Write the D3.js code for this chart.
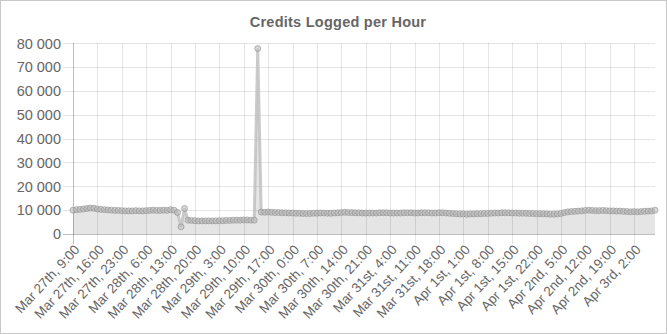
<!DOCTYPE html>
<html>
<head>
<meta charset="utf-8">
<script src="https://cdnjs.cloudflare.com/ajax/libs/d3/7.8.5/d3.min.js"></script>
<style>
  html, body { margin: 0; padding: 0; background: #fff; }
  #chart { width: 665px; height: 332px; border: 1px solid #c8c8c8; }
  text { font-family: "Liberation Sans", Arial, sans-serif; fill: #666; }
</style>
</head>
<body>
<div id="chart"></div>
<script>
// hourly credits, Mar 27th 9:00 .. Apr 3rd 8:00
var credits = [
  10000, 10200, 10300, 10500, 10700, 10900, 10800, 10500, 10300, 10200,
  10100, 10000, 9900, 9900, 9800, 9700, 9700, 9700, 9800, 9700,
  9700, 9800, 9900, 10000, 9900, 9900, 10000, 9900,
  10200, 10000, 9000, 3000, 10700,
  5800, 5700, 5600, 5500, 5500, 5500, 5500, 5500, 5500, 5600,
  5600, 5700, 5700, 5800, 5800, 5800, 5900, 5900, 5800, 5800,
  77800,
  9200, 9100, 9200, 9100, 9000, 9000, 8900, 8900, 8800, 8800,
  8700, 8700, 8600, 8600, 8600, 8700, 8700, 8800, 8800, 8700,
  8700, 8800, 8900, 9000, 9100, 9000, 9000, 8900, 8900, 8800,
  8800, 8800, 8800, 8800, 8900, 8900, 8900, 8800, 8800, 8800,
  8800, 8900, 8900, 8900, 8800, 8800, 8900,
  8900, 8900, 8800, 8800, 8900, 8900, 8800, 8700, 8600, 8500,
  8400, 8400, 8300, 8400, 8400, 8500, 8500, 8600, 8600, 8700,
  8800, 8800, 8900, 8900, 8900, 8800, 8800, 8700, 8700, 8700,
  8600, 8600, 8500, 8500, 8500,
  8400, 8300, 8300, 8400, 8600, 9000, 9300, 9400, 9500, 9600,
  9700, 9900, 10000, 9900, 9800, 9800, 9900, 9800, 9700, 9700,
  9600, 9600, 9500, 9400, 9300, 9400, 9300, 9400, 9500, 9600,
  9700, 10000
];

// one label shown every 7 hours
var tickLabels = [
  "Mar 27th, 9:00", "Mar 27th, 16:00", "Mar 27th, 23:00", "Mar 28th, 6:00",
  "Mar 28th, 13:00", "Mar 28th, 20:00", "Mar 29th, 3:00", "Mar 29th, 10:00",
  "Mar 29th, 17:00", "Mar 30th, 0:00", "Mar 30th, 7:00", "Mar 30th, 14:00",
  "Mar 30th, 21:00", "Mar 31st, 4:00", "Mar 31st, 11:00", "Mar 31st, 18:00",
  "Apr 1st, 1:00", "Apr 1st, 8:00", "Apr 1st, 15:00", "Apr 1st, 22:00",
  "Apr 2nd, 5:00", "Apr 2nd, 12:00", "Apr 2nd, 19:00", "Apr 3rd, 2:00"
];
var tickStep = 7;
var yTicks = [0, 10000, 20000, 30000, 40000, 50000, 60000, 70000, 80000];

var W = 665, H = 332;
var m = {top: 42, right: 11, bottom: 99, left: 72};

var svg = d3.select("#chart").append("svg")
    .attr("width", W).attr("height", H);

var x = d3.scaleLinear()
    .domain([0, credits.length - 1])
    .range([m.left, W - m.right]);
var y = d3.scaleLinear()
    .domain([0, 80000])
    .range([H - m.bottom, m.top + 0.3]);

var fmt = function(d) { return d3.format(",")(d).replace(/,/g, " "); };

svg.append("text")
    .attr("x", 337).attr("y", 25.5)
    .attr("text-anchor", "middle")
    .style("font-size", "14.5px").style("font-weight", "bold")
    .style("letter-spacing", "0.25px")
    .text("Credits Logged per Hour");

// y grid + labels
var gy = svg.append("g");
gy.selectAll("line").data(yTicks).enter().append("line")
    .attr("x1", m.left - 10).attr("x2", W - m.right)
    .attr("y1", function(d) { return Math.round(y(d)) + 0.5; })
    .attr("y2", function(d) { return Math.round(y(d)) + 0.5; })
    .attr("stroke", function(d) { return d === 0 ? "rgba(0,0,0,0.25)" : "rgba(0,0,0,0.1)"; });
gy.selectAll("text").data(yTicks).enter().append("text")
    .attr("x", m.left - 12)
    .attr("y", function(d) { return y(d); })
    .attr("dy", "0.36em")
    .attr("text-anchor", "end")
    .style("font-size", "14.5px")
    .text(fmt);

// x grid + labels
var xt = tickLabels.map(function(l, i) { return i * tickStep; });
var gx = svg.append("g");
gx.selectAll("line").data(xt).enter().append("line")
    .attr("x1", function(d) { return Math.round(x(d)) + 0.5; })
    .attr("x2", function(d) { return Math.round(x(d)) + 0.5; })
    .attr("y1", m.top).attr("y2", H - m.bottom + 10)
    .attr("stroke", function(d) { return d === 0 ? "rgba(0,0,0,0.25)" : "rgba(0,0,0,0.1)"; });
gx.selectAll("text").data(xt).enter().append("text")
    .attr("transform", function(d) {
      return "translate(" + (x(d) + 4) + "," + (H - m.bottom + 13) + ") rotate(-47)";
    })
    .attr("text-anchor", "end")
    .attr("dy", "0.35em")
    .style("font-size", "13.5px")
    .text(function(d, i) { return tickLabels[i]; });

// area, line, points
svg.append("path")
    .datum(credits)
    .attr("fill", "rgba(0,0,0,0.1)")
    .attr("d", d3.area()
      .x(function(d, i) { return x(i); })
      .y0(y(0))
      .y1(function(d) { return y(d); }));

svg.append("path")
    .datum(credits)
    .attr("fill", "none")
    .attr("stroke", "rgba(190,190,190,0.8)")
    .attr("stroke-width", 3)
    .attr("d", d3.line()
      .x(function(d, i) { return x(i); })
      .y(function(d) { return y(d); }));

svg.append("g").selectAll("circle").data(credits).enter().append("circle")
    .attr("cx", function(d, i) { return x(i); })
    .attr("cy", function(d) { return y(d); })
    .attr("r", 3)
    .attr("fill", "rgba(190,190,190,0.6)")
    .attr("stroke", "rgba(140,140,140,0.6)")
    .attr("stroke-width", 1);
</script>
</body>
</html>
